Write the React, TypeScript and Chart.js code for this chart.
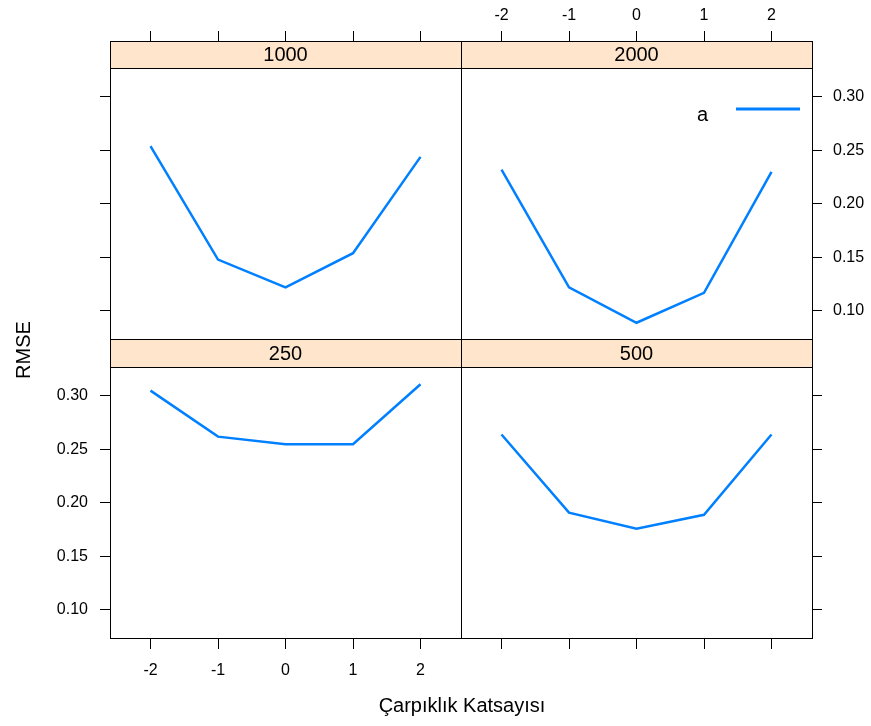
import React, { useEffect, useRef } from 'react';
import { Chart, registerables } from 'chart.js';

Chart.register(...registerables);

// ---- data ----
const skewness = [-2, -1, 0, 1, 2];
const xTickValues = [-2, -1, 0, 1, 2];
const yTickValues = [0.1, 0.15, 0.2, 0.25, 0.3];
const rmse1000 = [0.254, 0.148, 0.122, 0.154, 0.244];
const rmse2000 = [0.232, 0.122, 0.089, 0.117, 0.23];
const rmse250 = [0.305, 0.262, 0.255, 0.255, 0.311];
const rmse500 = [0.264, 0.191, 0.176, 0.189, 0.264];
const seriesName = 'a';
const xTitle = 'Çarpıklık Katsayısı';
const yTitle = 'RMSE';

// ---- layout / style ----
const W = 871;
const H = 726;
const FONT = '"Liberation Sans", Arial, Helvetica, sans-serif';
const LINE_COLOR = '#0080ff';
const STRIP_COLOR = '#ffe5cc';
const X_MIN = -2.6;
const X_MAX = 2.6;
const Y_MIN = 0.0738;
const Y_MAX = 0.3271;

type Panel = {
  label: string;
  values: number[];
  area: { l: number; t: number; r: number; b: number };
  stripH: number;
  xPos: 'top' | 'bottom';
  xLabels: boolean;
  yPos: 'left' | 'right';
  yLabels: boolean;
  legend: boolean;
  titles: boolean;
};

const panels: Panel[] = [
  { label: '1000', values: rmse1000, area: { l: 110, t: 68, r: 461, b: 339 }, stripH: 27, xPos: 'top', xLabels: false, yPos: 'left', yLabels: false, legend: false, titles: false },
  { label: '2000', values: rmse2000, area: { l: 461, t: 68, r: 812, b: 339 }, stripH: 27, xPos: 'top', xLabels: true, yPos: 'right', yLabels: true, legend: true, titles: false },
  { label: '250', values: rmse250, area: { l: 110, t: 367, r: 461, b: 638 }, stripH: 28, xPos: 'bottom', xLabels: true, yPos: 'left', yLabels: true, legend: false, titles: true },
  { label: '500', values: rmse500, area: { l: 461, t: 367, r: 812, b: 638 }, stripH: 28, xPos: 'bottom', xLabels: false, yPos: 'right', yLabels: false, legend: false, titles: false },
];

function panelPlugin(p: Panel) {
  return {
    id: 'panel' + p.label,
    afterDraw(chart: any) {
      const ctx = chart.ctx;
      const a = chart.chartArea;
      const w = a.right - a.left;
      const h = a.bottom - a.top;
      const sh = p.stripH;
      ctx.save();
      // strip
      ctx.fillStyle = STRIP_COLOR;
      ctx.fillRect(a.left, a.top - sh, w, sh);
      ctx.strokeStyle = '#000';
      ctx.lineWidth = 1;
      ctx.strokeRect(a.left + 0.5, a.top - sh + 0.5, w, sh);
      ctx.fillStyle = '#000';
      ctx.font = `20px ${FONT}`;
      ctx.textAlign = 'center';
      ctx.textBaseline = 'middle';
      ctx.fillText(p.label, a.left + w / 2, a.top - sh / 2 + 1);
      // frame
      ctx.strokeRect(a.left + 0.5, a.top + 0.5, w, h);

      if (p.legend) {
        const ds = chart.data.datasets[0];
        ctx.font = `20px ${FONT}`;
        ctx.textAlign = 'right';
        ctx.textBaseline = 'alphabetic';
        ctx.fillStyle = '#000';
        ctx.fillText(ds.label, 708, 121);
        ctx.strokeStyle = ds.borderColor;
        ctx.lineWidth = 3;
        ctx.beginPath();
        ctx.moveTo(736, 109);
        ctx.lineTo(800, 109);
        ctx.stroke();
      }
      if (p.titles) {
        ctx.fillStyle = '#000';
        ctx.font = `20px ${FONT}`;
        ctx.textAlign = 'center';
        ctx.textBaseline = 'middle';
        ctx.fillText(xTitle, 462, 706);
        ctx.save();
        ctx.translate(24, 350);
        ctx.rotate(-Math.PI / 2);
        ctx.fillText(yTitle, 0, 0);
        ctx.restore();
      }
      ctx.restore();
    },
  };
}

function makeConfig(p: Panel): any {
  const a = p.area;
  return {
    type: 'line',
    data: {
      datasets: [
        {
          label: seriesName,
          data: skewness.map((x, i) => ({ x, y: p.values[i] })),
          borderColor: LINE_COLOR,
          borderWidth: 2.5,
          pointRadius: 0,
          tension: 0,
          fill: false,
        },
      ],
    },
    options: {
      animation: false,
      responsive: false,
      devicePixelRatio: 1,
      layout: {
        padding: {
          left: p.yPos === 'left' ? 0 : a.l,
          right: p.yPos === 'right' ? 0 : W - a.r,
          top: p.xPos === 'top' ? 0 : a.t,
          bottom: p.xPos === 'bottom' ? 0 : H - a.b,
        },
      },
      plugins: { legend: { display: false }, tooltip: { enabled: false }, title: { display: false } },
      scales: {
        x: {
          type: 'linear',
          position: p.xPos,
          min: X_MIN,
          max: X_MAX,
          afterBuildTicks: (s: any) => {
            s.ticks = xTickValues.map((v) => ({ value: v }));
          },
          afterFit: (s: any) => {
            s.height = p.xPos === 'top' ? a.t : H - a.b;
          },
          grid: { drawOnChartArea: false, drawTicks: true, tickLength: p.xPos === 'top' ? 37 : 11, color: '#000', lineWidth: 1 },
          border: { display: false },
          ticks: {
            display: p.xLabels,
            padding: p.xPos === 'top' ? 6 : 12,
            color: '#000',
            font: { size: 16, family: FONT },
            maxRotation: 0,
            autoSkip: false,
            callback: (v: any) => String(v),
          },
        },
        y: {
          type: 'linear',
          position: p.yPos,
          min: Y_MIN,
          max: Y_MAX,
          afterBuildTicks: (s: any) => {
            s.ticks = yTickValues.map((v) => ({ value: v }));
          },
          afterFit: (s: any) => {
            s.width = p.yPos === 'left' ? a.l : W - a.r;
          },
          grid: { drawOnChartArea: false, drawTicks: true, tickLength: 10, color: '#000', lineWidth: 1 },
          border: { display: false },
          ticks: {
            display: p.yLabels,
            padding: p.yPos === 'left' ? 12 : 11,
            color: '#000',
            font: { size: 16, family: FONT },
            autoSkip: false,
            callback: (v: any) => Number(v).toFixed(2),
          },
        },
      },
    },
    plugins: [panelPlugin(p)],
  };
}

export default function App() {
  const r0 = useRef<HTMLCanvasElement>(null);
  const r1 = useRef<HTMLCanvasElement>(null);
  const r2 = useRef<HTMLCanvasElement>(null);
  const r3 = useRef<HTMLCanvasElement>(null);
  const refs = [r0, r1, r2, r3];

  useEffect(() => {
    Chart.defaults.font.family = FONT;
    const charts = panels.map((p, i) => new Chart(refs[i].current as HTMLCanvasElement, makeConfig(p)));
    return () => charts.forEach((c) => c.destroy());
  }, []);

  return (
    <div style={{ position: 'absolute', left: 0, top: 0, width: W, height: H, background: '#fff' }}>
      {refs.map((r, i) => (
        <canvas key={i} ref={r} width={W} height={H} style={{ position: 'absolute', left: 0, top: 0, width: W, height: H }} />
      ))}
    </div>
  );
}
